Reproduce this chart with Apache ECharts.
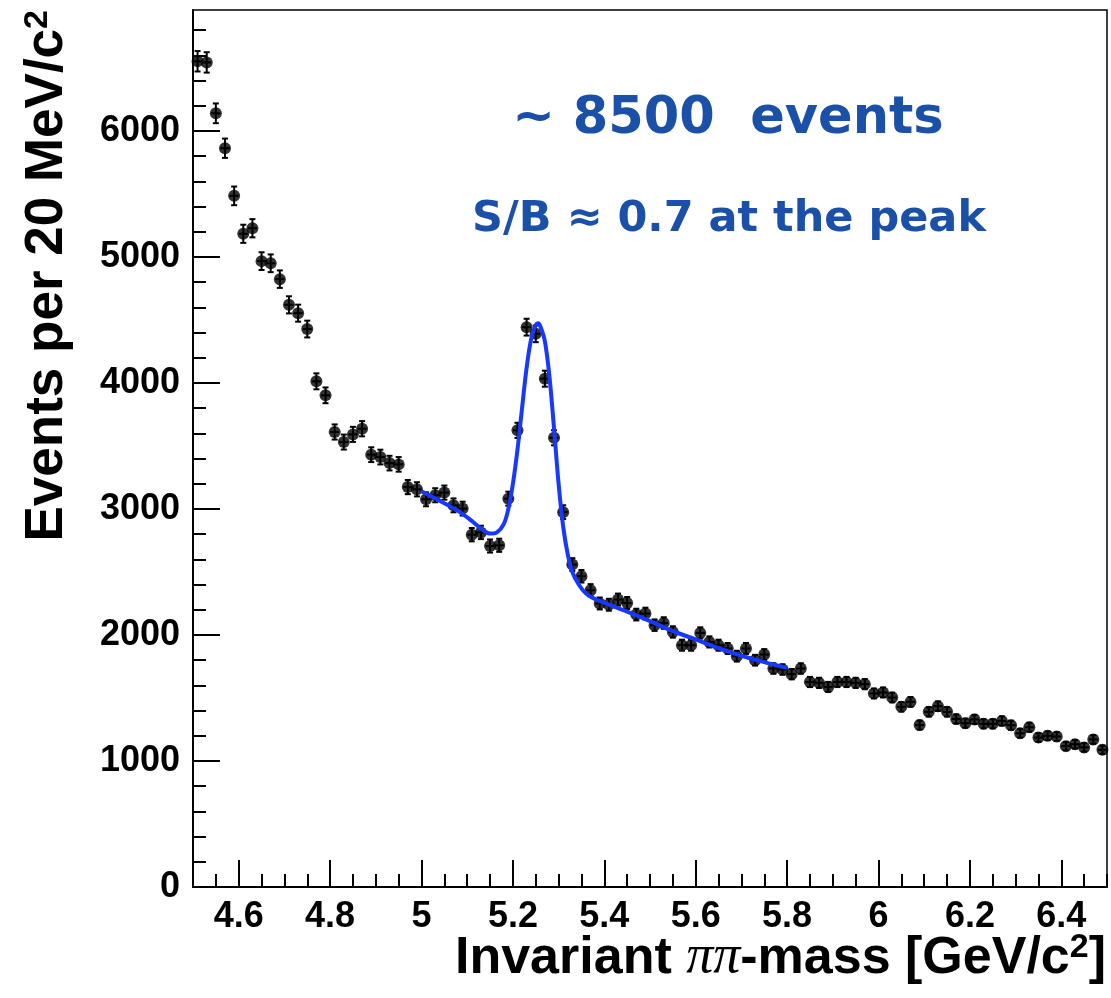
<!DOCTYPE html>
<html>
<head>
<meta charset="utf-8">
<script src="https://cdn.jsdelivr.net/npm/echarts@6/dist/echarts.min.js"></script>
<style>
  html, body { margin: 0; padding: 0; background: #fff; }
  #chart { width: 1111px; height: 998px; }
</style>
</head>
<body>
<div id="chart"></div>
<script>
// Bin centres of the ππ invariant-mass histogram (20 MeV/c² bins), GeV/c²
const massGeV = [
  4.51, 4.53, 4.55, 4.57, 4.59, 4.61, 4.63, 4.65, 4.67, 4.69,
  4.71, 4.73, 4.75, 4.77, 4.79, 4.81, 4.83, 4.85, 4.87, 4.89,
  4.91, 4.93, 4.95, 4.97, 4.99, 5.01, 5.03, 5.05, 5.07, 5.09,
  5.11, 5.13, 5.15, 5.17, 5.19, 5.21, 5.23, 5.25, 5.27, 5.29,
  5.31, 5.33, 5.35, 5.37, 5.39, 5.41, 5.43, 5.45, 5.47, 5.49,
  5.51, 5.53, 5.55, 5.57, 5.59, 5.61, 5.63, 5.65, 5.67, 5.69,
  5.71, 5.73, 5.75, 5.77, 5.79, 5.81, 5.83, 5.85, 5.87, 5.89,
  5.91, 5.93, 5.95, 5.97, 5.99, 6.01, 6.03, 6.05, 6.07, 6.09,
  6.11, 6.13, 6.15, 6.17, 6.19, 6.21, 6.23, 6.25, 6.27, 6.29,
  6.31, 6.33, 6.35, 6.37, 6.39, 6.41, 6.43, 6.45, 6.47, 6.49
];

// Events per bin
const events = [
  6553, 6544, 6140, 5863, 5485, 5184, 5228, 4967, 4950, 4824,
  4620, 4554, 4428, 4013, 3902, 3611, 3531, 3592, 3637, 3431,
  3412, 3364, 3354, 3174, 3156, 3077, 3109, 3130, 3029, 3003,
  2796, 2814, 2706, 2712, 3082, 3624, 4443, 4390, 4034, 3565,
  2975, 2559, 2466, 2355, 2250, 2240, 2281, 2254, 2162, 2170,
  2078, 2095, 2024, 1919, 1919, 2016, 1945, 1919, 1893, 1832,
  1893, 1800, 1845, 1734, 1726, 1689, 1734, 1627, 1620, 1588,
  1627, 1627, 1620, 1610, 1536, 1544, 1504, 1430, 1469, 1285,
  1390, 1435, 1390, 1333, 1300, 1330, 1295, 1295, 1318, 1284,
  1220, 1268, 1186, 1200, 1194, 1118, 1133, 1108, 1171, 1089
];

// Fitted signal + background curve (mass, events)
const fitMass = [
  5.00, 5.04, 5.08, 5.11, 5.13, 5.15, 5.165, 5.18, 5.19, 5.20,
  5.21, 5.22, 5.23, 5.24, 5.25, 5.255, 5.26, 5.27, 5.28, 5.29,
  5.30, 5.31, 5.32, 5.33, 5.345, 5.36, 5.38, 5.40, 5.45, 5.50,
  5.55, 5.60, 5.65, 5.70, 5.75, 5.80
];
const fitEvents = [
  3141, 3065, 2985, 2905, 2845, 2805, 2815, 2880, 3000, 3200,
  3470, 3800, 4120, 4350, 4460, 4474, 4450, 4330, 4050, 3640,
  3200, 2860, 2640, 2500, 2395, 2330, 2285, 2255, 2185, 2110,
  2030, 1965, 1895, 1835, 1785, 1740
];

// Axis tick labels
const xMajorTicks = [4.6, 4.8, 5.0, 5.2, 5.4, 5.6, 5.8, 6.0, 6.2, 6.4];
const yMajorTicks = [0, 1000, 2000, 3000, 4000, 5000, 6000];

const X_MIN = 4.5, X_MAX = 6.5, Y_MIN = 0, Y_MAX = 6960;
const HALF_BIN = 0.01;

// minor tick positions between the labelled ones
const xMinorTicks = [];
for (let k = 0; k <= 40; k++) {
  const v = +(X_MIN + k * 0.05).toFixed(2);
  if (!xMajorTicks.some(m => Math.abs(m - v) < 1e-6)) xMinorTicks.push(v);
}
const yMinorTicks = [];
for (let v = 200; v < Y_MAX; v += 200) {
  if (v % 1000 !== 0) yMinorTicks.push(v);
}

const points = massGeV.map((m, i) => [m, events[i]]);
const fitLine = fitMass.map((m, i) => [m, fitEvents[i]]);

const AX_FONT = '"Liberation Sans", Arial, Helvetica, sans-serif';
const BLUE_TEXT = '#1b50a8';

const chart = echarts.init(document.getElementById('chart'), null, { renderer: 'canvas' });

const baseX = {
  type: 'value', min: X_MIN, max: X_MAX, position: 'bottom', offset: 0,
  splitLine: { show: false }
};
const baseY = {
  type: 'value', min: Y_MIN, max: Y_MAX, position: 'left', offset: 0,
  splitLine: { show: false }
};

chart.setOption({
  animation: false,
  backgroundColor: '#fff',
  grid: {
    left: 193, right: 4, top: 10, bottom: 111,
    show: true, borderColor: '#000', borderWidth: 1.5, backgroundColor: 'transparent'
  },
  xAxis: [
    Object.assign({}, baseX, {
      axisLine: { show: true, lineStyle: { color: '#000', width: 2 } },
      axisTick: { show: true, inside: true, length: 27, customValues: xMajorTicks,
                  lineStyle: { color: '#000', width: 2 } },
      axisLabel: {
        show: true, customValues: xMajorTicks, margin: 12,
        fontFamily: AX_FONT, fontWeight: 'bold', fontSize: 36, color: '#000',
        formatter: v => String(+(+v).toFixed(1))
      }
    }),
    Object.assign({}, baseX, {
      axisLine: { show: false },
      axisTick: { show: true, inside: true, length: 13, customValues: xMinorTicks,
                  lineStyle: { color: '#000', width: 2 } },
      axisLabel: { show: false }
    })
  ],
  yAxis: [
    Object.assign({}, baseY, {
      axisLine: { show: true, lineStyle: { color: '#000', width: 2 } },
      axisTick: { show: true, inside: true, length: 27, customValues: yMajorTicks,
                  lineStyle: { color: '#000', width: 2 } },
      axisLabel: {
        show: true, customValues: yMajorTicks, margin: 13,
        fontFamily: AX_FONT, fontWeight: 'bold', fontSize: 36, color: '#000',
        formatter: v => String(Math.round(v))
      }
    }),
    Object.assign({}, baseY, {
      axisLine: { show: false },
      axisTick: { show: true, inside: true, length: 13, customValues: yMinorTicks,
                  lineStyle: { color: '#000', width: 2 } },
      axisLabel: { show: false }
    })
  ],
  series: [
    {
      // Poisson error bars with half-bin horizontal extent
      type: 'custom',
      xAxisIndex: 0, yAxisIndex: 0,
      data: points,
      renderItem: function (params, api) {
        const m = api.value(0), n = api.value(1);
        const err = Math.sqrt(n);
        const top = api.coord([m, n + err]);
        const bot = api.coord([m, n - err]);
        const left = api.coord([m - HALF_BIN, n]);
        const right = api.coord([m + HALF_BIN, n]);
        const st = { stroke: '#000', lineWidth: 2 };
        const cap = 3;
        return {
          type: 'group',
          children: [
            { type: 'line', shape: { x1: top[0], y1: top[1], x2: bot[0], y2: bot[1] }, style: st },
            { type: 'line', shape: { x1: top[0] - cap, y1: top[1], x2: top[0] + cap, y2: top[1] }, style: st },
            { type: 'line', shape: { x1: bot[0] - cap, y1: bot[1], x2: bot[0] + cap, y2: bot[1] }, style: st },
            { type: 'line', shape: { x1: left[0], y1: left[1], x2: right[0], y2: right[1] }, style: st }
          ]
        };
      },
      z: 2
    },
    {
      type: 'scatter',
      xAxisIndex: 0, yAxisIndex: 0,
      data: points,
      symbol: 'circle',
      symbolSize: 12,
      itemStyle: { color: '#000' },
      z: 3
    },
    {
      type: 'line',
      xAxisIndex: 0, yAxisIndex: 0,
      data: fitLine,
      smooth: 0.35,
      showSymbol: false,
      lineStyle: { color: '#1638ff', width: 4 },
      z: 4
    }
  ],
  graphic: [
    {
      type: 'text',
      x: 728, y: 120,
      style: {
        text: '~ 8500  events',
        fontFamily: '"DejaVu Sans", Verdana, sans-serif',
        fontWeight: 'bold', fontSize: 51, fill: BLUE_TEXT,
        align: 'center', verticalAlign: 'middle'
      },
      z: 10
    },
    {
      type: 'text',
      x: 729, y: 220,
      style: {
        text: 'S/B \u2248 0.7 at the peak',
        fontFamily: '"DejaVu Sans", Verdana, sans-serif',
        fontWeight: 'bold', fontSize: 43, fill: BLUE_TEXT,
        align: 'center', verticalAlign: 'middle'
      },
      z: 10
    },
    {
      // vertical axis title, right-aligned to the top of the frame
      type: 'text',
      x: 47, y: 10,
      rotation: Math.PI / 2,
      style: {
        text: '{t|Events per 20 MeV/c}{s|2}',
        align: 'right', verticalAlign: 'middle',
        rich: {
          t: { fontFamily: AX_FONT, fontWeight: 'bold', fontSize: 53, fill: '#000', verticalAlign: 'bottom' },
          s: { fontFamily: AX_FONT, fontWeight: 'bold', fontSize: 34, fill: '#000', verticalAlign: 'top' }
        }
      },
      z: 10
    },
    {
      // horizontal axis title, right-aligned to the end of the axis
      type: 'text',
      x: 1106, y: 958,
      style: {
        text: '{t|Invariant }{p|\u03c0\u03c0}{t|-mass [GeV/c}{s|2}{t|]}',
        align: 'right', verticalAlign: 'middle',
        rich: {
          t: { fontFamily: AX_FONT, fontWeight: 'bold', fontSize: 52, fill: '#000', verticalAlign: 'bottom' },
          p: { fontFamily: '"Liberation Serif", "DejaVu Serif", serif', fontStyle: 'italic', fontSize: 54, fill: '#000', verticalAlign: 'bottom' },
          s: { fontFamily: AX_FONT, fontWeight: 'bold', fontSize: 34, fill: '#000', verticalAlign: 'top' }
        }
      },
      z: 10
    }
  ]
});
</script>
</body>
</html>
